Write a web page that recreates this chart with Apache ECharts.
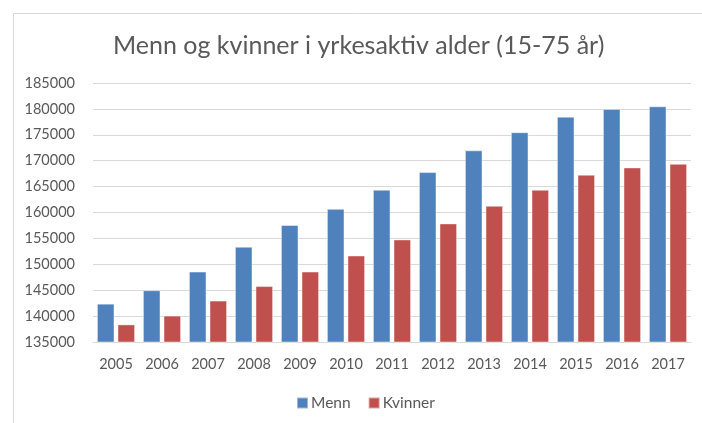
<!DOCTYPE html>
<html>
<head>
<meta charset="utf-8">
<script src="https://cdn.jsdelivr.net/npm/echarts@6/dist/echarts.min.js"></script>
<style>html,body{margin:0;padding:0;background:#fff}#c{width:702px;height:423px}</style>
</head>
<body>
<div id="c"></div>
<script>
const categories = ['2005','2006','2007','2008','2009','2010','2011','2012','2013','2014','2015','2016','2017'];
const menn = [142400, 145000, 148600, 153400, 157600, 160700, 164400, 167800, 172000, 175500, 178500, 180000, 180500];
const kvinner = [138400, 140100, 143000, 145800, 148600, 151700, 154800, 157900, 161300, 164400, 167300, 168700, 169400];
const yMin = 135000, yMax = 185000, yStep = 5000;
const titleText = 'Menn og kvinner i yrkesaktiv alder (15-75 år)';

const font = 'Lato, "Open Sans", sans-serif';
const chart = echarts.init(document.getElementById('c'), null, {renderer: 'canvas'});
chart.setOption({
  animation: false,
  backgroundColor: '#fff',
  graphic: [{
    type: 'rect', left: 11, top: 11, shape: {width: 720, height: 440},
    style: {fill: 'none', stroke: '#d9d9d9', lineWidth: 1}, z: -1
  }],
  title: {
    text: titleText, left: 108, top: 28,
    textStyle: {fontFamily: font, fontSize: 25, fontWeight: 'normal', color: '#595959'}
  },
  legend: {
    data: ['Menn', 'Kvinner'], bottom: 7, left: 291,
    itemWidth: 11, itemHeight: 11, itemGap: 17, icon: 'rect',
    textStyle: {fontFamily: font, fontSize: 15.5, color: '#595959', padding: [0, 0, 0, -2]}
  },
  grid: {left: 93, right: 11, top: 83, bottom: 81},
  xAxis: {
    type: 'category', data: categories,
    axisLine: {lineStyle: {color: '#d9d9d9'}},
    axisTick: {show: false},
    axisLabel: {fontFamily: font, fontSize: 14.5, color: '#595959', margin: 15}
  },
  yAxis: {
    type: 'value', min: yMin, max: yMax, interval: yStep,
    axisLine: {show: false}, axisTick: {show: false},
    splitLine: {lineStyle: {color: '#d9d9d9', width: 1}},
    axisLabel: {fontFamily: font, fontSize: 14.5, color: '#595959', margin: 18,
      formatter: v => String(v)}
  },
  series: [
    {name: 'Menn', type: 'bar', data: menn, barGap: '17%', barCategoryGap: '17%',
     itemStyle: {color: '#4F81BD', borderColor: 'rgba(255,255,255,0.45)', borderWidth: 1}},
    {name: 'Kvinner', type: 'bar', data: kvinner,
     itemStyle: {color: '#C0504D', borderColor: 'rgba(255,255,255,0.45)', borderWidth: 1}}
  ]
});
</script>
</body>
</html>
